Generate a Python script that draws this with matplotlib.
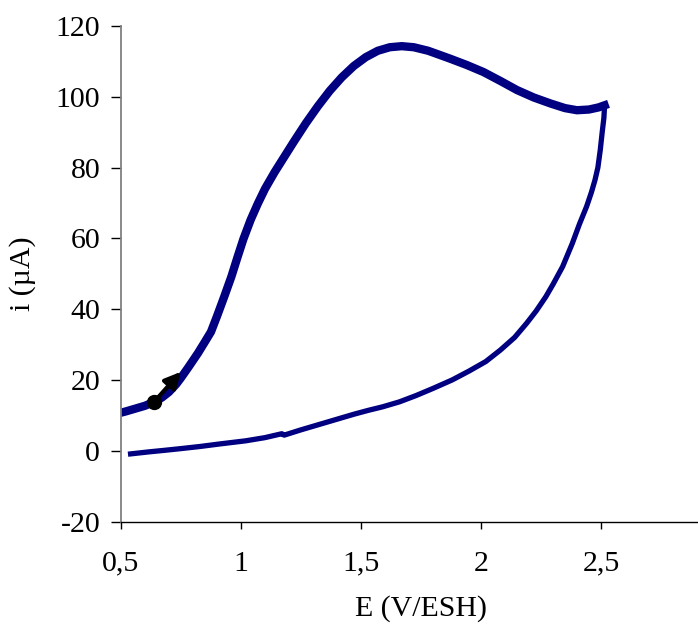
import matplotlib
matplotlib.use("Agg")
import matplotlib.pyplot as plt

# Forward (anodic) scan
E_forward = [0.48, 0.52, 0.56, 0.60, 0.638, 0.67, 0.70, 0.73, 0.75, 0.78, 0.82, 0.85,
             0.875, 0.90, 0.93, 0.96, 0.986, 1.01, 1.04, 1.07, 1.10, 1.14, 1.18, 1.22,
             1.27, 1.32, 1.37, 1.42, 1.47, 1.52, 1.57, 1.62, 1.67, 1.72, 1.78, 1.87,
             1.94, 2.01, 2.08, 2.15, 2.22, 2.29, 2.35, 2.40, 2.45, 2.49, 2.515]
i_forward = [10.4, 11.1, 11.9, 12.7, 13.8, 15.0, 16.6, 18.8, 20.6, 23.5, 27.5, 30.8,
             33.6, 38.0, 43.5, 49.2, 54.8, 59.8, 65.2, 69.8, 74.0, 78.7, 83.0, 87.3,
             92.5, 97.3, 101.7, 105.5, 108.7, 111.2, 113.0, 114.0, 114.3, 114.0, 113.0, 110.8,
             109.0, 107.0, 104.5, 101.9, 99.8, 98.1, 96.8, 96.2, 96.4, 97.0, 97.6]

# Reverse scan
E_reverse = [2.515, 2.512, 2.505, 2.497, 2.487, 2.475, 2.46, 2.44, 2.41, 2.38, 2.34, 2.30,
             2.27, 2.23, 2.19, 2.14, 2.08, 2.02, 1.95, 1.88, 1.80, 1.73, 1.66, 1.59,
             1.53, 1.47, 1.40, 1.32, 1.25, 1.18, 1.17, 1.10, 1.02, 0.91, 0.83, 0.75,
             0.68, 0.62, 0.54]
i_reverse = [97.6, 94.0, 90.0, 85.0, 80.0, 76.5, 73.0, 69.0, 64.0, 58.5, 52.0, 47.0,
             43.5, 39.5, 36.0, 32.0, 28.4, 25.2, 22.5, 20.0, 17.6, 15.6, 13.8, 12.4,
             11.4, 10.3, 8.9, 7.3, 5.9, 4.4, 4.8, 3.7, 2.8, 1.9, 1.2, 0.6,
             0.1, -0.3, -0.9]

# Start point and direction arrow
start_point = (0.638, 13.8)
arrow_tip = (0.75, 22.3)

x_ticks = [0.5, 1.0, 1.5, 2.0, 2.5]
x_tick_labels = ["0,5", "1", "1,5", "2", "2,5"]
y_ticks = [-20, 0, 20, 40, 60, 80, 100, 120]

plt.rcParams['font.family'] = ['Liberation Serif', 'DejaVu Serif']
plt.rcParams['axes.unicode_minus'] = False

fig = plt.figure(figsize=(6.98, 6.31), dpi=100)
ax = fig.add_axes([121 / 698, 1 - 521.5 / 631, (721 - 121) / 698, (521.5 - 26) / 631])

navy = '#000080'
ax.plot(E_forward, i_forward, color=navy, lw=6.0, solid_joinstyle='round', zorder=2)
ax.plot(E_reverse, i_reverse, color=navy, lw=3.8, solid_joinstyle='round', zorder=2)

ax.annotate('', xy=arrow_tip, xytext=start_point,
            arrowprops=dict(arrowstyle='-|>', lw=3, color='black', mutation_scale=24,
                            shrinkA=0, shrinkB=0), zorder=4)
ax.plot([start_point[0]], [start_point[1]], 'o', color='black', markersize=10, zorder=5)

ax.set_xlim(0.5, 3.0)
ax.set_ylim(-20, 120)
ax.set_xticks(x_ticks)
ax.set_xticklabels(x_tick_labels)
ax.set_yticks(y_ticks)

for s in ['top', 'right']:
    ax.spines[s].set_visible(False)
ax.spines['left'].set_color('#808080')
ax.spines['left'].set_linewidth(1.3)
ax.spines['bottom'].set_color('black')
ax.spines['bottom'].set_linewidth(1.0)

ax.tick_params(axis='y', direction='out', length=7, width=1, pad=8, labelsize=21.5)
ax.tick_params(axis='x', direction='out', length=5, width=1, pad=16, labelsize=21.5)

ax.set_xlabel('E (V/ESH)', fontsize=21.5, labelpad=13)
ax.set_ylabel('i (µA)', fontsize=21.5, labelpad=14)

fig.savefig('out.png', dpi=100)
